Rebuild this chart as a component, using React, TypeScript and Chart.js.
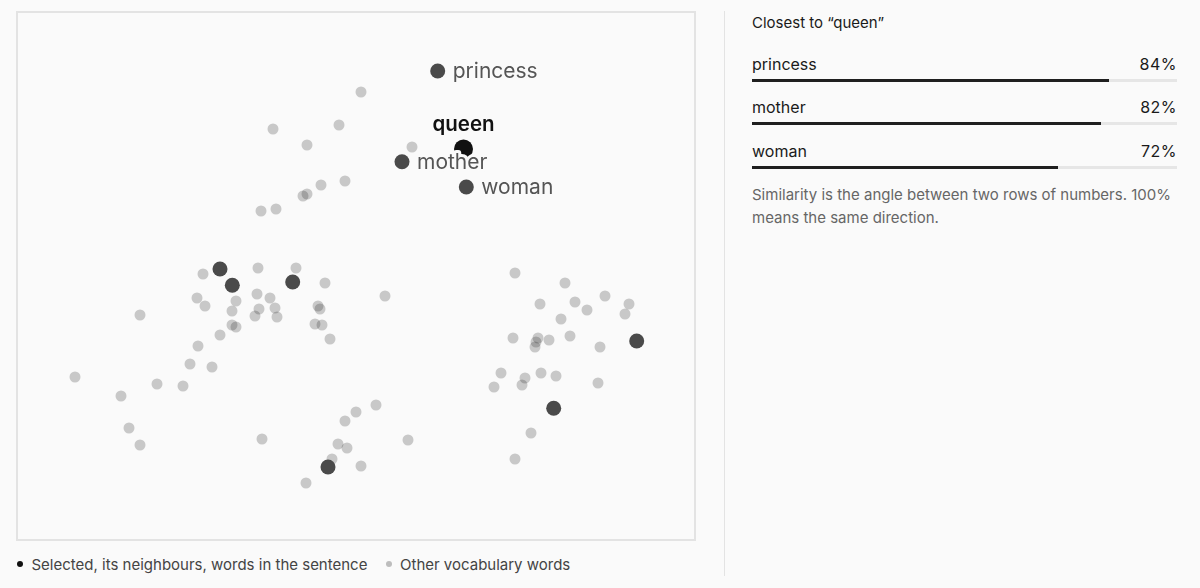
import React, { useEffect, useRef } from "react";
import { Chart, registerables } from "chart.js";

Chart.register(...registerables);

// 2-D projection coordinates of the vocabulary
const selectedWord = "queen";
const selectedPoint = [{ x: 463.5, y: 149 }];

const neighbourWords = ["princess", "mother", "woman"];
const neighbourPoints = [
  { x: 437.7, y: 71 },
  { x: 402, y: 161.7 },
  { x: 466.3, y: 187 },
];

const sentencePoints = [
  { x: 220, y: 269 },
  { x: 232.3, y: 285.3 },
  { x: 292.7, y: 282 },
  { x: 328, y: 467 },
  { x: 636.7, y: 341 },
  { x: 553.7, y: 408.3 },
];

const otherPoints = [
  { x: 361, y: 92 }, { x: 273, y: 129 }, { x: 339, y: 125 }, { x: 307, y: 145 },
  { x: 345, y: 181 }, { x: 321, y: 185 }, { x: 307, y: 194 }, { x: 303, y: 196 },
  { x: 261, y: 211 }, { x: 276, y: 209 }, { x: 412, y: 147 },
  { x: 203, y: 274 }, { x: 258, y: 268 }, { x: 296, y: 268 }, { x: 325, y: 283 },
  { x: 385, y: 296 }, { x: 197, y: 298 }, { x: 205, y: 306 }, { x: 236, y: 301 },
  { x: 232, y: 311 }, { x: 257, y: 294 }, { x: 270, y: 298 }, { x: 259, y: 309 },
  { x: 275, y: 308 }, { x: 255, y: 316 }, { x: 277, y: 317 }, { x: 318, y: 306 },
  { x: 320, y: 309 }, { x: 315, y: 324 }, { x: 322, y: 325 }, { x: 330, y: 339 },
  { x: 232, y: 325 }, { x: 236, y: 327 }, { x: 220, y: 335 }, { x: 140, y: 315 },
  { x: 198, y: 346 }, { x: 190, y: 364 }, { x: 212, y: 367 }, { x: 75, y: 377 },
  { x: 157, y: 384 }, { x: 183, y: 386 }, { x: 121, y: 396 }, { x: 129, y: 428 },
  { x: 140, y: 445 },
  { x: 262, y: 439 }, { x: 376, y: 405 }, { x: 356, y: 412 }, { x: 345, y: 421 },
  { x: 338, y: 444 }, { x: 347, y: 448 }, { x: 332, y: 459 }, { x: 361, y: 466 },
  { x: 306, y: 483 }, { x: 408, y: 440 },
  { x: 515, y: 273 }, { x: 565, y: 283 }, { x: 540, y: 304 }, { x: 575, y: 302 },
  { x: 605, y: 296 }, { x: 629, y: 304 }, { x: 587, y: 310 }, { x: 625, y: 314 },
  { x: 561, y: 319 }, { x: 513, y: 338 }, { x: 538, y: 338 }, { x: 536, y: 342 },
  { x: 535, y: 347 }, { x: 549, y: 340 }, { x: 570, y: 336 }, { x: 600, y: 347 },
  { x: 501, y: 373 }, { x: 525, y: 378 }, { x: 522, y: 385 }, { x: 541, y: 373 },
  { x: 556, y: 376 }, { x: 494, y: 387 }, { x: 598, y: 383 }, { x: 531, y: 433 },
  { x: 515, y: 459 },
];

const xRange = [17, 695];
const yRange = [12, 540];

const legendLabels = ["Selected, its neighbours, words in the sentence", "Other vocabulary words"];

const similarityWords = ["princess", "mother", "woman"];
const similarityValues = [84, 82, 72];

const BG = "#fafafa";

const boxPlugin = {
  id: "box",
  beforeDatasetsDraw(chart: any) {
    const { ctx, chartArea } = chart;
    ctx.save();
    ctx.strokeStyle = "#e3e3e3";
    ctx.lineWidth = 2;
    ctx.strokeRect(chartArea.left, chartArea.top, chartArea.right - chartArea.left, chartArea.bottom - chartArea.top);
    ctx.restore();
  },
};

const labelPlugin = {
  id: "wordLabels",
  afterDatasetsDraw(chart: any) {
    const { ctx } = chart;
    ctx.save();
    ctx.lineJoin = "round";
    ctx.strokeStyle = BG;
    ctx.lineWidth = 6;
    const nMeta = chart.getDatasetMeta(1);
    ctx.font = "21px Inter";
    ctx.textAlign = "left";
    ctx.textBaseline = "alphabetic";
    ctx.fillStyle = "#555555";
    neighbourWords.forEach((w, i) => {
      const el = nMeta.data[i];
      if (!el) return;
      const tx = el.x + 15;
      const ty = el.y + 7;
      ctx.strokeText(w, tx, ty);
      ctx.fillText(w, tx, ty);
    });
    const qMeta = chart.getDatasetMeta(0);
    const q = qMeta.data[0];
    if (q) {
      ctx.font = "600 20.5px Inter";
      ctx.textAlign = "center";
      ctx.fillStyle = "#111111";
      ctx.strokeText(selectedWord, q.x, q.y - 18);
      ctx.fillText(selectedWord, q.x, q.y - 18);
    }
    ctx.restore();
  },
};

function ScatterChart() {
  const ref = useRef<HTMLCanvasElement | null>(null);
  useEffect(() => {
    if (!ref.current) return;
    const chart = new Chart(ref.current, {
      type: "scatter",
      data: {
        datasets: [
          {
            label: selectedWord,
            data: selectedPoint,
            backgroundColor: "#111111",
            borderWidth: 0,
            pointRadius: 9.5,
            order: 0,
          },
          {
            label: legendLabels[0],
            data: [...neighbourPoints, ...sentencePoints],
            backgroundColor: "#4a4a4a",
            borderWidth: 0,
            pointRadius: 7.5,
            order: 1,
          },
          {
            label: legendLabels[1],
            data: otherPoints,
            backgroundColor: "rgba(0,0,0,0.2)",
            borderWidth: 0,
            pointRadius: 5.5,
            order: 2,
          },
        ],
      },
      options: {
        responsive: false,
        animation: false,
        layout: { padding: { left: 17, top: 12, right: 17, bottom: 12 } },
        scales: {
          x: { type: "linear", min: xRange[0], max: xRange[1], display: false },
          y: { type: "linear", min: yRange[0], max: yRange[1], reverse: true, display: false },
        },
        plugins: { legend: { display: false }, tooltip: { enabled: false } },
      },
      plugins: [boxPlugin, labelPlugin],
    } as any);
    return () => chart.destroy();
  }, []);
  return <canvas ref={ref} width={712} height={552} style={{ position: "absolute", left: 0, top: 0 }} />;
}

export default function App() {
  useEffect(() => {
    document.body.style.margin = "0";
    document.body.style.background = BG;
  }, []);
  const font = "Inter, 'Noto Sans', sans-serif";
  return (
    <div style={{ position: "relative", width: 1200, height: 588, background: BG, fontFamily: font, overflow: "hidden" }}>
      <ScatterChart />
      {/* legend */}
      <div style={{ position: "absolute", left: 16.5, top: 555.5, display: "flex", alignItems: "center", fontSize: 15, lineHeight: "17px", color: "#444" }}>
        <span style={{ width: 6, height: 6, borderRadius: "50%", background: "#111", marginRight: 9 }} />
        <span>{legendLabels[0]}</span>
      </div>
      <div style={{ position: "absolute", left: 385.5, top: 555.5, display: "flex", alignItems: "center", fontSize: 15, lineHeight: "17px", color: "#444" }}>
        <span style={{ width: 6, height: 6, borderRadius: "50%", background: "#bdbdbd", marginRight: 8.5 }} />
        <span>{legendLabels[1]}</span>
      </div>
      {/* divider */}
      <div style={{ position: "absolute", left: 724, top: 11, width: 1, height: 565, background: "#e3e3e3" }} />
      {/* side panel */}
      <div style={{ position: "absolute", left: 752, top: 14, fontSize: 15, lineHeight: "18px", color: "#1a1a1a" }}>
        Closest to “{selectedWord}”
      </div>
      {similarityWords.map((w, i) => (
        <div key={w} style={{ position: "absolute", left: 752, top: 54 + i * 43.3, width: 425 }}>
          <div style={{ display: "flex", justifyContent: "space-between", fontSize: 16, lineHeight: "20px", color: "#1a1a1a" }}>
            <span>{w}</span>
            <span style={{ letterSpacing: "0.5px" }}>{similarityValues[i]}%</span>
          </div>
          <div style={{ position: "absolute", left: 0, top: 25, width: 425, height: 3, background: "#e6e6e6" }}>
            <div style={{ width: `${similarityValues[i]}%`, height: 3, background: "#1f1f1f" }} />
          </div>
        </div>
      ))}
      <div style={{ position: "absolute", left: 752, top: 182.5, width: 430, fontSize: 15, lineHeight: "23px", color: "#666" }}>
        Similarity is the angle between two rows of numbers. 100% means the same direction.
      </div>
    </div>
  );
}
